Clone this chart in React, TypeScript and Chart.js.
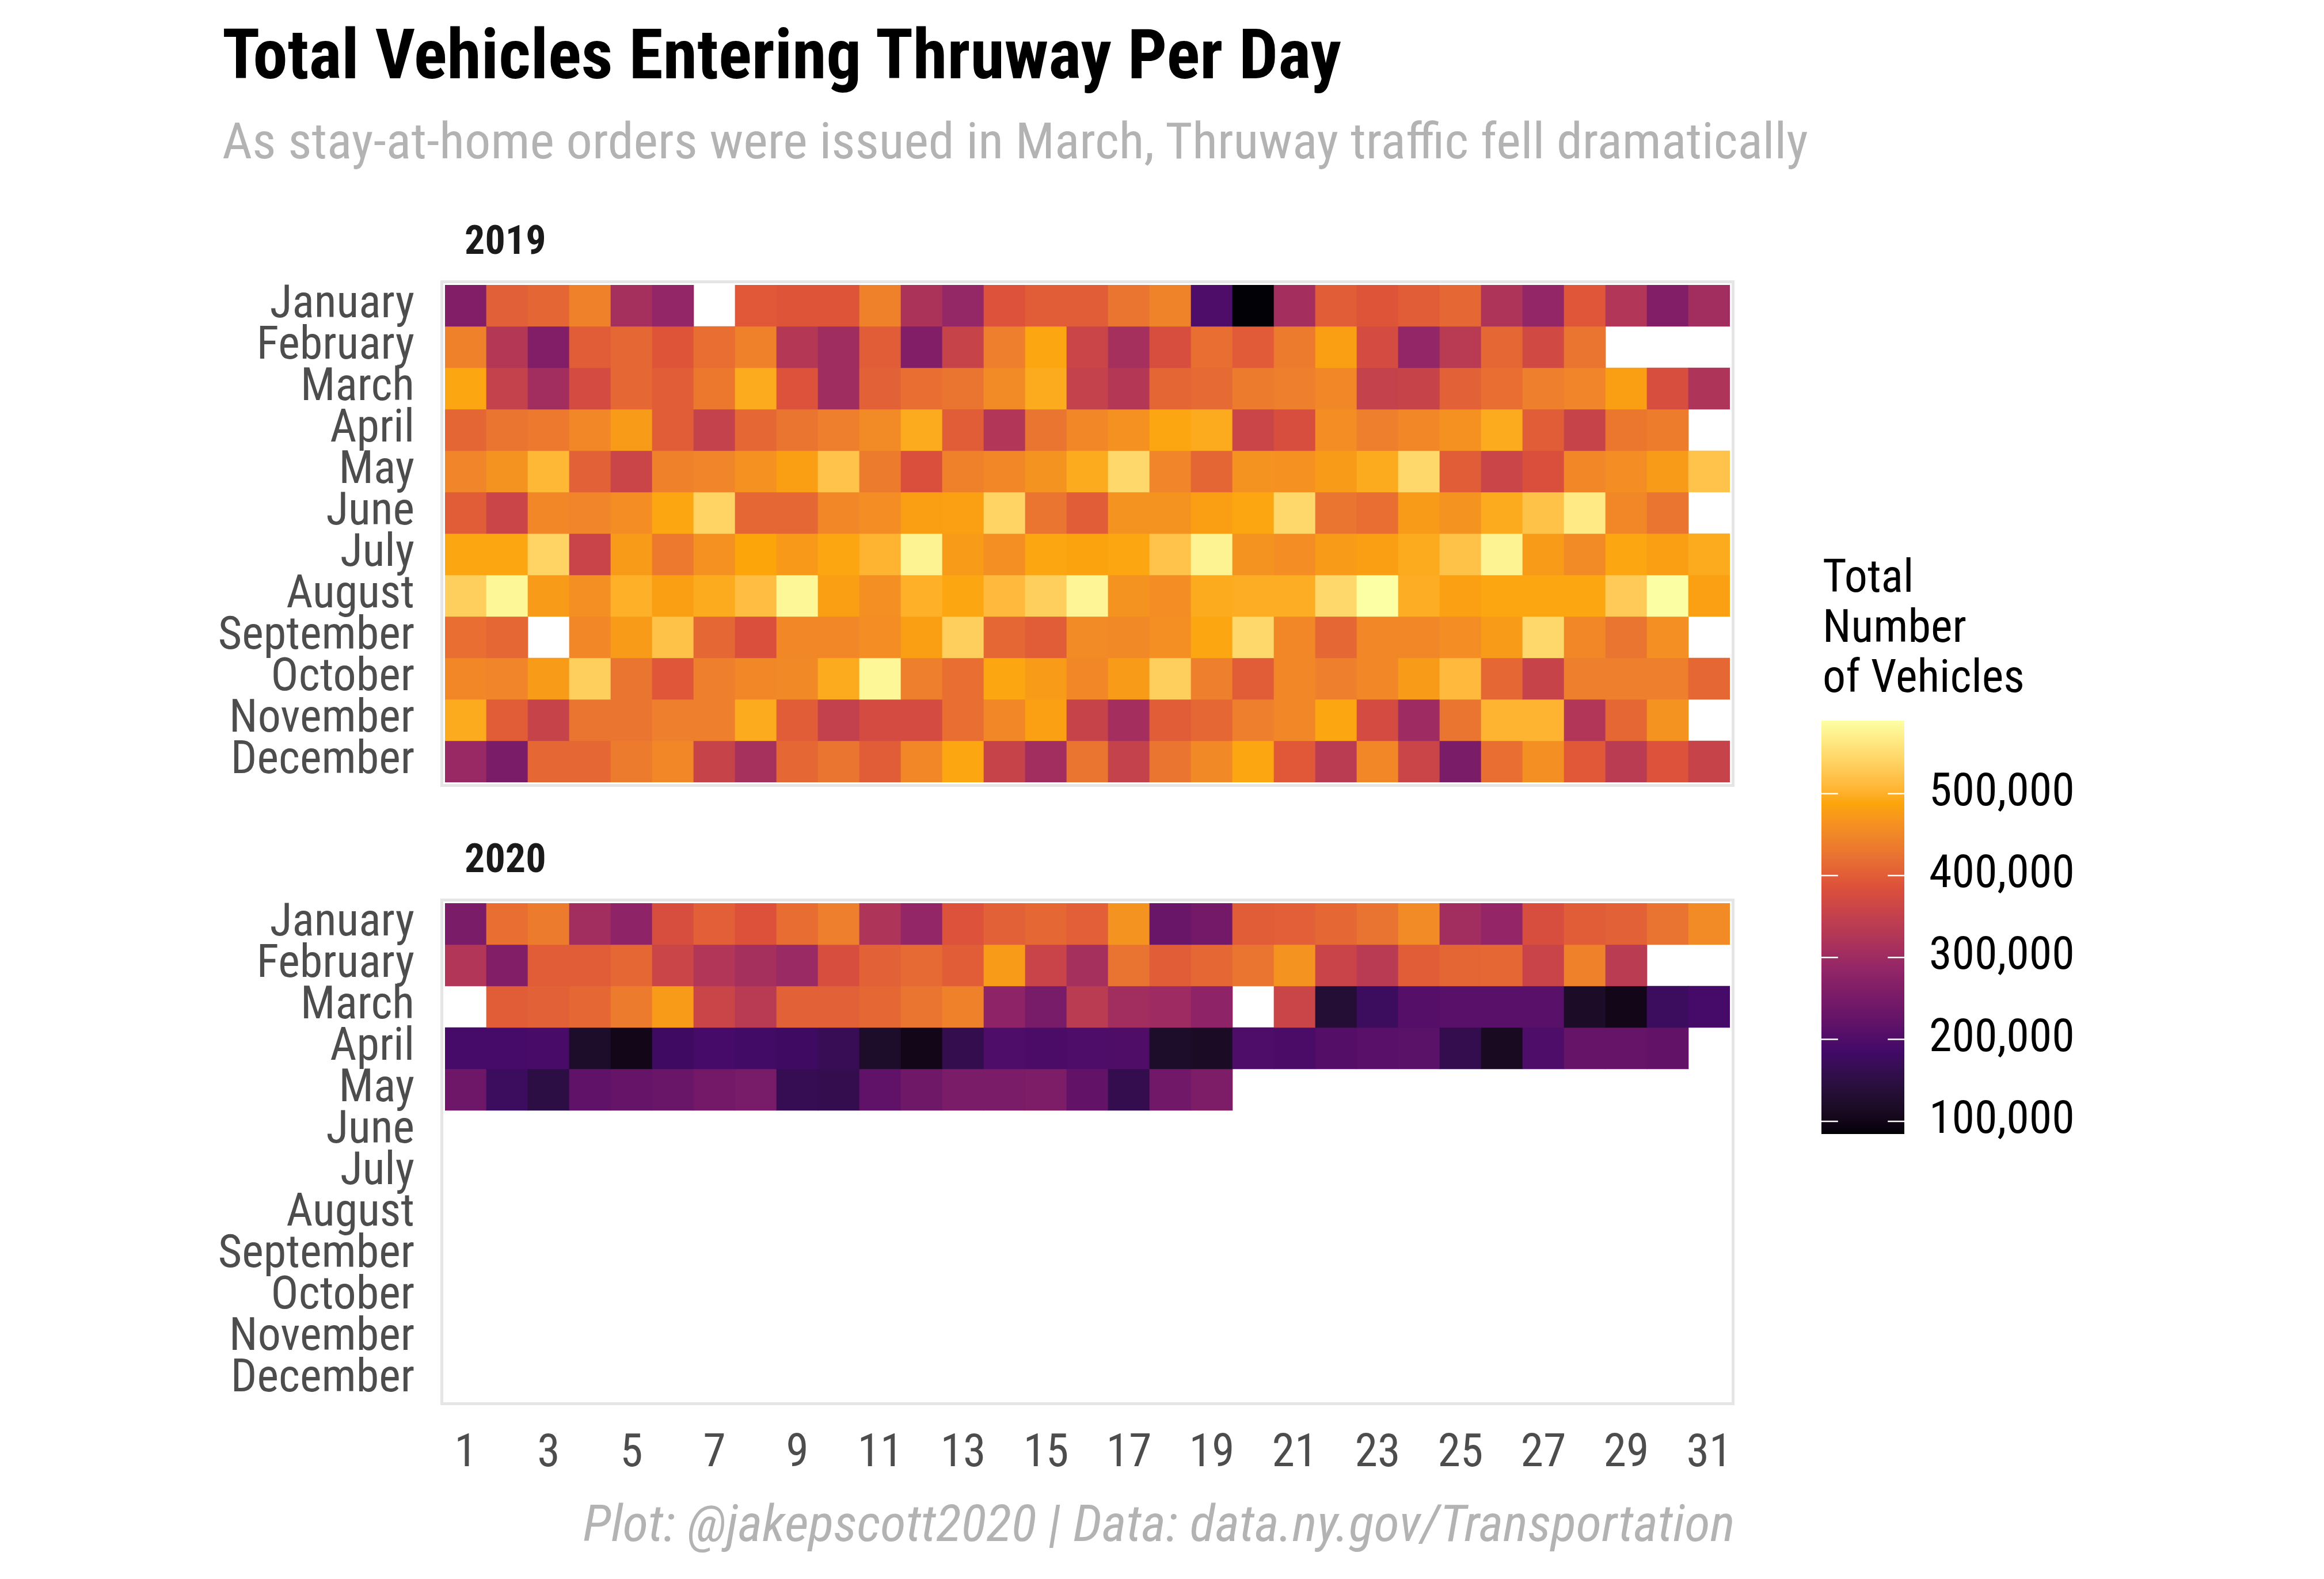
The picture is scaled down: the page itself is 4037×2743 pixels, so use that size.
import React, { useEffect, useLayoutEffect, useRef } from 'react';
import { Chart, registerables } from 'chart.js';

Chart.register(...registerables);

const FONT = '"Roboto Condensed", Roboto, sans-serif';

// ---------- DATA (daily vehicles entering the Thruway, thousands) ----------
const months = ['January', 'February', 'March', 'April', 'May', 'June', 'July', 'August', 'September', 'October', 'November', 'December'];
const dayLabels = ['1', '2', '3', '4', '5', '6', '7', '8', '9', '10', '11', '12', '13', '14', '15', '16', '17', '18', '19', '20', '21', '22', '23', '24', '25', '26', '27', '28', '29', '30', '31'];
const legendTicks = [100000, 200000, 300000, 400000, 500000];
const SCALE_MIN = 84500;
const SCALE_MAX = 589000;
const UNIT = 1000;

const jan2019 = [262, 403, 410, 443, 310, 285, null, 395, 390, 390, 443, 318, 288, 388, 400, 400, 428, 445, 198, 86, 308, 400, 390, 400, 412, 322, 285, 393, 325, 262, 305];
const feb2019 = [443, 330, 262, 400, 412, 390, 420, 443, 330, 303, 400, 262, 355, 440, 490, 360, 310, 380, 420, 398, 435, 480, 375, 285, 335, 412, 370, 428, null, null, null];
const mar2019 = [490, 352, 305, 375, 412, 400, 432, 495, 388, 303, 405, 420, 428, 455, 495, 352, 330, 410, 415, 435, 440, 450, 352, 355, 405, 420, 440, 447, 480, 380, 322];
const apr2019 = [410, 428, 433, 450, 475, 400, 352, 412, 428, 440, 455, 495, 400, 325, 428, 450, 463, 490, 495, 360, 380, 458, 440, 450, 462, 495, 400, 355, 430, 438, null];
const may2019 = [447, 465, 508, 405, 360, 443, 447, 463, 480, 522, 435, 383, 443, 450, 465, 495, 545, 447, 410, 465, 463, 475, 495, 545, 400, 360, 383, 450, 457, 475, 522];
const jun2019 = [400, 360, 450, 447, 457, 490, 540, 412, 412, 450, 458, 480, 482, 540, 428, 400, 465, 465, 480, 490, 545, 428, 420, 475, 465, 495, 520, 565, 450, 428, null];
const jul2019 = [490, 490, 540, 357, 475, 433, 463, 488, 473, 490, 505, 575, 475, 460, 490, 485, 490, 522, 575, 465, 458, 475, 480, 495, 520, 575, 475, 455, 490, 480, 495];
const aug2019 = [535, 580, 475, 460, 500, 480, 495, 515, 580, 480, 460, 500, 490, 512, 535, 578, 465, 458, 495, 497, 497, 545, 589, 497, 482, 490, 490, 490, 530, 588, 482];
const sep2019 = [420, 412, null, 450, 475, 520, 412, 383, 450, 450, 457, 480, 535, 412, 400, 455, 452, 460, 490, 545, 450, 412, 450, 450, 457, 475, 545, 450, 428, 460, null];
const oct2019 = [450, 447, 475, 535, 428, 392, 440, 450, 452, 495, 580, 440, 420, 490, 475, 450, 475, 535, 440, 400, 450, 440, 450, 475, 512, 412, 355, 440, 440, 440, 412];
const nov2019 = [495, 400, 355, 428, 428, 440, 440, 495, 400, 350, 375, 375, 420, 450, 482, 355, 308, 400, 412, 440, 450, 490, 375, 300, 428, 505, 505, 325, 412, 465, null];
const dec2019 = [293, 255, 412, 412, 435, 450, 355, 312, 412, 428, 400, 450, 490, 355, 305, 428, 352, 428, 452, 490, 395, 338, 450, 360, 255, 420, 460, 395, 338, 388, 355];

const jan2020 = [255, 420, 435, 305, 280, 380, 402, 387, 418, 440, 322, 285, 388, 405, 412, 402, 465, 232, 245, 400, 402, 412, 425, 455, 305, 287, 380, 400, 405, 425, 455];
const feb2020 = [325, 262, 400, 400, 412, 360, 325, 310, 295, 380, 405, 415, 400, 475, 357, 310, 425, 400, 412, 428, 465, 357, 335, 400, 410, 412, 357, 443, 338, null, null];
const mar2020 = [null, 400, 405, 412, 435, 475, 360, 335, 405, 405, 412, 428, 443, 280, 250, 338, 305, 300, 280, null, 360, 135, 176, 208, 211, 211, 211, 118, 101, 176, 190];
const apr2020 = [190, 190, 192, 122, 101, 180, 190, 183, 180, 168, 122, 101, 160, 198, 195, 197, 200, 122, 115, 197, 195, 205, 210, 213, 160, 112, 197, 226, 226, 222, null];
const may2020 = [238, 176, 150, 220, 226, 232, 245, 250, 165, 160, 220, 240, 253, 253, 257, 222, 160, 242, 257, null, null, null, null, null, null, null, null, null, null, null, null];
const empty = [null, null, null, null, null, null, null, null, null, null, null, null, null, null, null, null, null, null, null, null, null, null, null, null, null, null, null, null, null, null, null];

const rows2019 = [jan2019, feb2019, mar2019, apr2019, may2019, jun2019, jul2019, aug2019, sep2019, oct2019, nov2019, dec2019];
const rows2020 = [jan2020, feb2020, mar2020, apr2020, may2020, empty, empty, empty, empty, empty, empty, empty];

// ---------- colour scale: inferno anchors, interpolated in CIELAB ----------
const anchorColors = ['#000004', '#420A68', '#932667', '#DD513A', '#FCA50A', '#FCFFA4'];

function srgbToLin(c: number) { c /= 255; return c <= 0.04045 ? c / 12.92 : Math.pow((c + 0.055) / 1.055, 2.4); }
function linToSrgb(c: number) { const v = c <= 0.0031308 ? 12.92 * c : 1.055 * Math.pow(c, 1 / 2.4) - 0.055; return Math.max(0, Math.min(255, Math.round(v * 255))); }
const WX = 0.95047, WY = 1.0, WZ = 1.08883;
function fLab(t: number) { return t > 0.008856 ? Math.cbrt(t) : (7.787 * t + 16 / 116); }
function fInv(t: number) { const t3 = t * t * t; return t3 > 0.008856 ? t3 : (t - 16 / 116) / 7.787; }
function hexToLab(hex: string) {
  const r = srgbToLin(parseInt(hex.slice(1, 3), 16));
  const g = srgbToLin(parseInt(hex.slice(3, 5), 16));
  const b = srgbToLin(parseInt(hex.slice(5, 7), 16));
  const X = (0.4124 * r + 0.3576 * g + 0.1805 * b) / WX;
  const Y = (0.2126 * r + 0.7152 * g + 0.0722 * b) / WY;
  const Z = (0.0193 * r + 0.1192 * g + 0.9505 * b) / WZ;
  const fx = fLab(X), fy = fLab(Y), fz = fLab(Z);
  return [116 * fy - 16, 500 * (fx - fy), 200 * (fy - fz)];
}
function labToRgb(lab: number[]) {
  const fy = (lab[0] + 16) / 116;
  const fx = fy + lab[1] / 500;
  const fz = fy - lab[2] / 200;
  const X = fInv(fx) * WX, Y = fInv(fy) * WY, Z = fInv(fz) * WZ;
  const r = 3.2406 * X - 1.5372 * Y - 0.4986 * Z;
  const g = -0.9689 * X + 1.8758 * Y + 0.0415 * Z;
  const b = 0.0557 * X - 0.2040 * Y + 1.0570 * Z;
  return `rgb(${linToSrgb(r)},${linToSrgb(g)},${linToSrgb(b)})`;
}
const anchorLabs = anchorColors.map(hexToLab);
function fillColor(v: number) {
  let t = (v - SCALE_MIN) / (SCALE_MAX - SCALE_MIN);
  t = Math.max(0, Math.min(1, t));
  const n = anchorLabs.length - 1;
  const seg = Math.min(n - 1, Math.floor(t * n));
  const f = t * n - seg;
  const a = anchorLabs[seg], b = anchorLabs[seg + 1];
  return labToRgb([a[0] + (b[0] - a[0]) * f, a[1] + (b[1] - a[1]) * f, a[2] + (b[2] - a[2]) * f]);
}

// ---------- plugins ----------
const panelPlugin = {
  id: 'panelDecor',
  afterDraw(chart: any, _args: any, opts: any) {
    const { ctx, chartArea: a } = chart;
    ctx.save();
    ctx.strokeStyle = '#E5E5E5';
    ctx.lineWidth = 5;
    ctx.strokeRect(a.left - 5.5, a.top - 5.5, a.width + 11, a.height + 11);
    ctx.fillStyle = '#1A1A1A';
    ctx.font = `bold 70px ${FONT}`;
    ctx.textAlign = 'left';
    ctx.textBaseline = 'alphabetic';
    ctx.fillText(opts.label, a.left + 34, a.top - 54);
    ctx.restore();
  },
};

const legendPlugin = {
  id: 'legendDecor',
  afterDatasetsDraw(chart: any) {
    const { ctx, chartArea: a } = chart;
    const y = chart.scales.y;
    ctx.save();
    ctx.strokeStyle = '#FFFFFF';
    ctx.lineWidth = 2.5;
    legendTicks.forEach((v) => {
      const py = y.getPixelForValue(v);
      ctx.beginPath();
      ctx.moveTo(a.left, py);
      ctx.lineTo(a.left + a.width * 0.2, py);
      ctx.moveTo(a.right - a.width * 0.2, py);
      ctx.lineTo(a.right, py);
      ctx.stroke();
    });
    ctx.restore();
  },
  afterDraw(chart: any, _args: any, opts: any) {
    const { ctx, chartArea: a } = chart;
    ctx.save();
    ctx.fillStyle = '#000000';
    ctx.font = `80px ${FONT}`;
    ctx.textAlign = 'left';
    ctx.textBaseline = 'alphabetic';
    (opts.lines as string[]).forEach((line, i) => {
      ctx.fillText(line, a.left + 2, opts.firstBaseline + i * 87);
    });
    ctx.restore();
  },
};

function zeroPad(s: any) {
  s.paddingTop = 0;
  s.paddingBottom = 0;
  s.paddingLeft = 0;
  s.paddingRight = 0;
}

function heatConfig(rows: (number | null)[][], label: string, showX: boolean, pad: any): any {
  const datasets = rows.map((row, m) => ({
    label: months[m],
    data: row.map((v) => (v == null ? null : [m - 0.5, m + 0.5])),
    backgroundColor: row.map((v) => (v == null ? 'rgba(0,0,0,0)' : fillColor(v * UNIT))),
    borderWidth: 0,
    grouped: false,
    barPercentage: 1,
    categoryPercentage: 1,
  }));
  return {
    type: 'bar',
    data: { labels: dayLabels, datasets },
    options: {
      responsive: false,
      animation: false,
      devicePixelRatio: 1,
      layout: { padding: pad },
      events: [],
      plugins: {
        legend: { display: false },
        tooltip: { enabled: false },
        panelDecor: { label },
      },
      scales: {
        x: {
          type: 'category',
          display: showX,
          grid: { display: false, drawTicks: false },
          border: { display: false },
          ticks: {
            autoSkip: false,
            maxRotation: 0,
            padding: 46,
            color: '#4D4D4D',
            font: { family: FONT, size: 80 },
            callback: (_v: any, i: number) => (i % 2 === 0 ? dayLabels[i] : ''),
          },
          afterFit: (s: any) => { s.height = showX ? 130 : 0; zeroPad(s); },
        },
        y: {
          type: 'linear',
          reverse: true,
          min: -0.5,
          max: 11.5,
          grid: { display: false, drawTicks: false },
          border: { display: false },
          afterBuildTicks: (s: any) => { s.ticks = months.map((_m, i) => ({ value: i })); },
          ticks: {
            autoSkip: false,
            padding: 53,
            color: '#4D4D4D',
            font: { family: FONT, size: 80 },
            callback: (v: any) => months[Math.round(v)] ?? '',
          },
          afterFit: (s: any) => { s.width = 773; zeroPad(s); },
        },
      },
    },
    plugins: [panelPlugin],
  };
}

function legendConfig(): any {
  return {
    type: 'bar',
    data: {
      labels: [''],
      datasets: [{
        data: [[SCALE_MIN, SCALE_MAX]],
        backgroundColor: (c: any) => {
          const chart = c.chart;
          const y = chart.scales.y;
          if (!chart.chartArea || !y) return 'rgba(0,0,0,0)';
          const g = chart.ctx.createLinearGradient(0, y.getPixelForValue(SCALE_MIN), 0, y.getPixelForValue(SCALE_MAX));
          for (let i = 0; i <= 80; i++) {
            g.addColorStop(i / 80, fillColor(SCALE_MIN + ((SCALE_MAX - SCALE_MIN) * i) / 80));
          }
          return g;
        },
        borderWidth: 0,
        barPercentage: 1,
        categoryPercentage: 1,
      }],
    },
    options: {
      responsive: false,
      animation: false,
      devicePixelRatio: 1,
      events: [],
      layout: { padding: { left: 64, top: 352, right: 329, bottom: 130 } },
      plugins: {
        legend: { display: false },
        tooltip: { enabled: false },
        legendDecor: { lines: ['Total', 'Number', 'of Vehicles'], firstBaseline: 128 },
      },
      scales: {
        x: { display: false, afterFit: (s: any) => { s.height = 0; zeroPad(s); } },
        y: {
          position: 'right',
          min: SCALE_MIN,
          max: SCALE_MAX,
          grid: { display: false, drawTicks: false },
          border: { display: false },
          afterBuildTicks: (s: any) => { s.ticks = legendTicks.map((v) => ({ value: v })); },
          ticks: {
            autoSkip: false,
            padding: 43,
            color: '#000000',
            font: { family: FONT, size: 80 },
            callback: (v: any) => Number(v).toLocaleString('en-US'),
          },
          afterFit: (s: any) => { s.width = 400; zeroPad(s); },
        },
      },
    },
    plugins: [legendPlugin],
  };
}

function ChartCanvas({ config, left, top, width, height }: { config: () => any; left: number; top: number; width: number; height: number }) {
  const ref = useRef<HTMLCanvasElement>(null);
  useEffect(() => {
    if (!ref.current) return;
    const chart = new Chart(ref.current, config());
    return () => chart.destroy();
  }, []);
  return (
    <canvas
      ref={ref}
      width={width}
      height={height}
      style={{ position: 'absolute', left, top, width, height }}
    />
  );
}

function FitText({ text, x, anchor, top, size, weight, italic, color, targetWidth }: any) {
  const ref = useRef<HTMLDivElement>(null);
  useLayoutEffect(() => {
    const el = ref.current;
    if (!el) return;
    el.style.transform = 'none';
    const w = el.getBoundingClientRect().width;
    if (w > 0) el.style.transform = `scaleX(${targetWidth / w})`;
  }, []);
  const style: any = {
    position: 'absolute',
    top,
    whiteSpace: 'nowrap',
    fontFamily: FONT,
    fontSize: size,
    lineHeight: 1,
    fontWeight: weight,
    fontStyle: italic ? 'italic' : 'normal',
    color,
    transformOrigin: anchor === 'right' ? 'right top' : 'left top',
  };
  if (anchor === 'right') style.right = 4037 - x; else style.left = x;
  return <div ref={ref} style={style}>{text}</div>;
}

export default function App() {
  return (
    <div style={{ position: 'absolute', left: 0, top: 0, width: 4037, height: 2743, overflow: 'hidden', background: '#FFFFFF' }}>
      <FitText text="Total Vehicles Entering Thruway Per Day" x={386} anchor="left" top={35} size={120} weight={700} color="#000000" targetWidth={1944} />
      <FitText text="As stay-at-home orders were issued in March, Thruway traffic fell dramatically" x={386} anchor="left" top={201} size={88} weight={400} color="#B3B3B3" targetWidth={2755} />
      <ChartCanvas config={() => heatConfig(rows2019, '2019', false, { left: 0, top: 165, right: 95, bottom: 21 })} left={0} top={330} width={3100} height={1050} />
      <ChartCanvas config={() => heatConfig(rows2020, '2020', true, { left: 0, top: 169, right: 95, bottom: 37 })} left={0} top={1400} width={3100} height={1200} />
      <ChartCanvas config={legendConfig} left={3100} top={900} width={937} height={1200} />
      <FitText text="Plot: @jakepscott2020 | Data: data.ny.gov/Transportation" x={3013} anchor="right" top={2603} size={88} weight={400} italic color="#B3B3B3" targetWidth={2001} />
    </div>
  );
}
